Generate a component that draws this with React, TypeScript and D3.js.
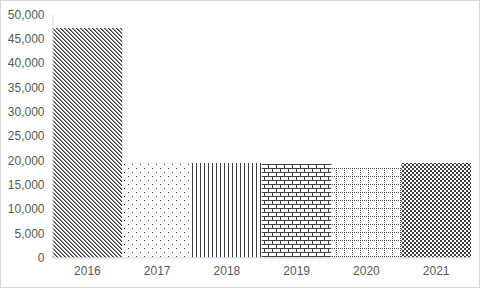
import React, { useEffect, useRef } from "react";
import * as d3 from "d3";

const years = ["2016", "2017", "2018", "2019", "2020", "2021"];
const values = [47200, 19650, 19450, 19250, 18650, 19450];
const yTicks = [0, 5000, 10000, 15000, 20000, 25000, 30000, 35000, 40000, 45000, 50000];
const patternIds = ["dnDiag", "dots", "vert", "brick", "dotGrid", "check"];

const W = 481;
const H = 289;
const ink = "#404040";

function App() {
  const svgRef = useRef<SVGSVGElement>(null);

  useEffect(() => {
    const svg = d3.select(svgRef.current);
    svg.selectAll("*").remove();

    const defs = svg.append("defs");

    // wide downward diagonal
    const p1 = defs.append("pattern").attr("id", "dnDiag").attr("patternUnits", "userSpaceOnUse")
      .attr("width", 4).attr("height", 4);
    p1.append("rect").attr("width", 4).attr("height", 4).attr("fill", "#fff");
    [[0, 0], [1, 1], [2, 2], [3, 3]].forEach(([x, y]) =>
      p1.append("rect").attr("x", x).attr("y", y).attr("width", 1).attr("height", 1).attr("fill", ink));
    [[1, 0], [2, 1], [3, 2], [0, 3]].forEach(([x, y]) =>
      p1.append("rect").attr("x", x).attr("y", y).attr("width", 1).attr("height", 1).attr("fill", "#888"));

    // sparse dots
    const p2 = defs.append("pattern").attr("id", "dots").attr("patternUnits", "userSpaceOnUse")
      .attr("width", 8).attr("height", 8);
    p2.append("rect").attr("width", 8).attr("height", 8).attr("fill", "#fff");
    [[0, 0], [4, 4]].forEach(([x, y]) =>
      p2.append("rect").attr("x", x).attr("y", y).attr("width", 1).attr("height", 1).attr("fill", ink));

    // vertical lines
    const p3 = defs.append("pattern").attr("id", "vert").attr("patternUnits", "userSpaceOnUse")
      .attr("width", 4).attr("height", 4);
    p3.append("rect").attr("width", 4).attr("height", 4).attr("fill", "#fff");
    p3.append("rect").attr("x", 0).attr("width", 1).attr("height", 4).attr("fill", ink);

    // horizontal brick
    const p4 = defs.append("pattern").attr("id", "brick").attr("patternUnits", "userSpaceOnUse")
      .attr("width", 8).attr("height", 8);
    p4.append("rect").attr("width", 8).attr("height", 8).attr("fill", "#fff");
    p4.append("rect").attr("x", 0).attr("y", 0).attr("width", 8).attr("height", 1).attr("fill", ink);
    p4.append("rect").attr("x", 0).attr("y", 4).attr("width", 8).attr("height", 1).attr("fill", ink);
    p4.append("rect").attr("x", 0).attr("y", 0).attr("width", 1).attr("height", 4).attr("fill", ink);
    p4.append("rect").attr("x", 4).attr("y", 4).attr("width", 1).attr("height", 4).attr("fill", ink);

    // dotted grid
    const p5 = defs.append("pattern").attr("id", "dotGrid").attr("patternUnits", "userSpaceOnUse")
      .attr("width", 8).attr("height", 8);
    p5.append("rect").attr("width", 8).attr("height", 8).attr("fill", "#fff");
    [0, 2, 4, 6].forEach(i => {
      p5.append("rect").attr("x", i).attr("y", 0).attr("width", 1).attr("height", 1).attr("fill", ink);
      if (i > 0) p5.append("rect").attr("x", 0).attr("y", i).attr("width", 1).attr("height", 1).attr("fill", ink);
    });

    // small checker
    const p6 = defs.append("pattern").attr("id", "check").attr("patternUnits", "userSpaceOnUse")
      .attr("width", 4).attr("height", 4);
    p6.append("rect").attr("width", 4).attr("height", 4).attr("fill", "#fff");
    p6.append("rect").attr("x", 0).attr("y", 0).attr("width", 2).attr("height", 2).attr("fill", ink);
    p6.append("rect").attr("x", 2).attr("y", 2).attr("width", 2).attr("height", 2).attr("fill", ink);

    // chart border
    svg.append("rect").attr("x", 0.5).attr("y", 0.5).attr("width", W - 2).attr("height", H - 2)
      .attr("fill", "#fff").attr("stroke", "#d9d9d9");

    const x = d3.scaleBand().domain(years).range([52.5, 471]).padding(0);
    const y = d3.scaleLinear().domain([0, 50000]).range([257.5, 14.5]);

    svg.append("g").selectAll("rect").data(values).join("rect")
      .attr("x", (d, i) => x(years[i])!)
      .attr("y", d => y(d))
      .attr("width", x.bandwidth())
      .attr("height", d => y(0) - y(d))
      .attr("fill", (d, i) => `url(#${patternIds[i]})`);

    // y axis
    const yAxis = svg.append("g").attr("transform", `translate(52.5,0)`)
      .call(d3.axisLeft(y).tickValues(yTicks).tickSize(0).tickPadding(8).tickFormat(d3.format(",")));
    yAxis.select(".domain").attr("stroke", "#d9d9d9");
    yAxis.selectAll("text").attr("fill", "#595959").attr("font-size", 12)
      .attr("font-family", "Liberation Sans, Arial, sans-serif");

    // x axis
    const xAxis = svg.append("g").attr("transform", `translate(0,${y(0)})`)
      .call(d3.axisBottom(x).tickSize(0).tickPadding(9));
    xAxis.select(".domain").attr("stroke", "#d9d9d9");
    xAxis.selectAll("text").attr("fill", "#595959").attr("font-size", 12)
      .attr("font-family", "Liberation Sans, Arial, sans-serif");
  }, []);

  return (
    <svg ref={svgRef} width={W} height={H}
      style={{ position: "absolute", left: 0, top: 0, display: "block" }} />
  );
}

export default App;
